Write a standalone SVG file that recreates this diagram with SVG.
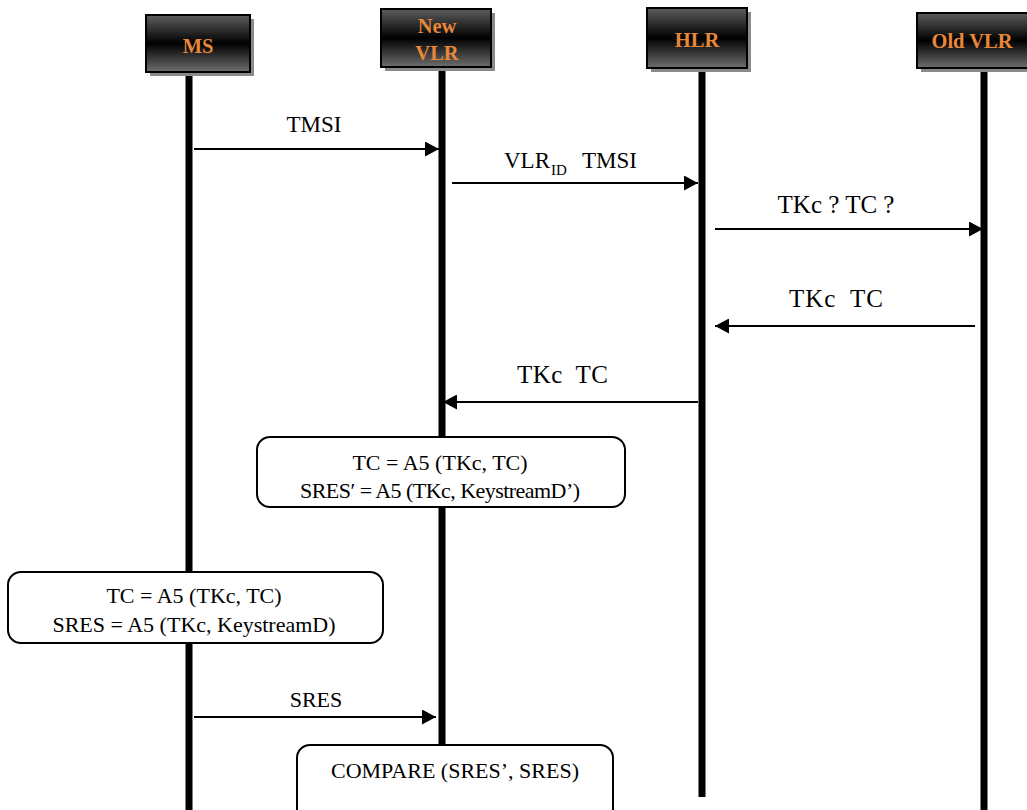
<svg xmlns="http://www.w3.org/2000/svg" width="1027" height="810" viewBox="0 0 1027 810">
<style>
.nodebox{stroke:#000;stroke-width:2;fill:url(#grad)}
.shadow{fill:#8a8a8a}
.ntext{font-family:"Liberation Serif","Times New Roman",serif;font-weight:bold;font-size:20.5px;fill:#E8873A;text-anchor:middle}
.life{stroke:#000;stroke-width:7}
.msg{stroke:#000;stroke-width:2;fill:none;marker-end:url(#ah)}
.lbl{font-family:"Liberation Serif","Times New Roman",serif;fill:#000;white-space:pre}
.note{fill:#fff;stroke:#000;stroke-width:2}
.ntxt{font-family:"Liberation Serif","Times New Roman",serif;font-size:22px;fill:#000;text-anchor:middle}
</style>
<defs>
<linearGradient id="grad" x1="0" y1="0" x2="0" y2="1">
<stop offset="0" stop-color="#5e5e5e"/>
<stop offset="0.5" stop-color="#000"/>
<stop offset="1" stop-color="#6e6e6e"/>
</linearGradient>
<marker id="ah" markerWidth="15" markerHeight="15" refX="14" refY="7.5" orient="auto" markerUnits="userSpaceOnUse">
<path d="M0,0 L14,7.5 L0,15 z" fill="#000"/>
</marker>
</defs>
<rect width="1027" height="810" fill="#fff"/>

<g id="lifelines">
<line class="life" x1="189" y1="72" x2="189" y2="810"/>
<line class="life" x1="442" y1="67" x2="442" y2="810"/>
<line class="life" x1="702" y1="68" x2="702" y2="797"/>
<line class="life" x1="984" y1="68" x2="984" y2="810"/>
</g>

<g id="node-ms">
<rect class="shadow" x="150" y="19" width="104" height="57"/>
<rect class="nodebox" x="146" y="15" width="104" height="57"/>
<text class="ntext" x="198" y="53">MS</text>
</g>
<g id="node-newvlr">
<rect class="shadow" x="385" y="13" width="110" height="58"/>
<rect class="nodebox" x="381" y="9" width="110" height="58"/>
<text class="ntext" x="437" y="33">New</text>
<text class="ntext" x="437" y="60">VLR</text>
</g>
<g id="node-hlr">
<rect class="shadow" x="651" y="12" width="100" height="60"/>
<rect class="nodebox" x="647" y="8" width="100" height="60"/>
<text class="ntext" x="697" y="47">HLR</text>
</g>
<g id="node-oldvlr">
<rect class="shadow" x="921" y="17" width="110" height="55"/>
<rect class="nodebox" x="917" y="13" width="112" height="55"/>
<text class="ntext" x="972" y="48">Old VLR</text>
</g>

<g id="connectors">
<path class="msg" d="M194,149 H439"/>
<path class="msg" d="M452,183 H698"/>
<path class="msg" d="M715,229 H983"/>
<path class="msg" d="M975,326 H715"/>
<path class="msg" d="M698,402 H443"/>
<path class="msg" d="M194,717 H436"/>
<text class="lbl" x="314" y="132" font-size="23" text-anchor="middle">TMSI</text>
<text class="lbl" font-size="23"><tspan x="504" y="168">VLR</tspan><tspan x="551" y="175" font-size="15">ID</tspan><tspan x="582" y="168">TMSI</tspan></text>
<text class="lbl" x="836" y="213" font-size="25" text-anchor="middle">TKc ? TC ?</text>
<text class="lbl" x="789" y="307" font-size="25" textLength="94">TKc  TC</text>
<text class="lbl" x="517" y="383" font-size="25" textLength="91">TKc  TC</text>
<text class="lbl" x="316" y="707" font-size="22" text-anchor="middle">SRES</text>
</g>

<g id="note-vlr">
<rect class="note" x="257" y="437" width="368" height="70" rx="13"/>
<text class="ntxt" x="440" y="470">TC = A5 (TKc, TC)</text>
<text class="ntxt" x="440" y="498" textLength="280">SRES′ = A5 (TKc, KeystreamD’)</text>
</g>
<g id="note-ms">
<rect class="note" x="8" y="572" width="375" height="71" rx="13"/>
<text class="ntxt" x="194" y="603">TC = A5 (TKc, TC)</text>
<text class="ntxt" x="194" y="632">SRES = A5 (TKc, KeystreamD)</text>
</g>
<g id="note-compare">
<rect class="note" x="297" y="745" width="316" height="80" rx="13"/>
<text class="ntxt" x="455" y="778">COMPARE (SRES’, SRES)</text>
</g>
</svg>
